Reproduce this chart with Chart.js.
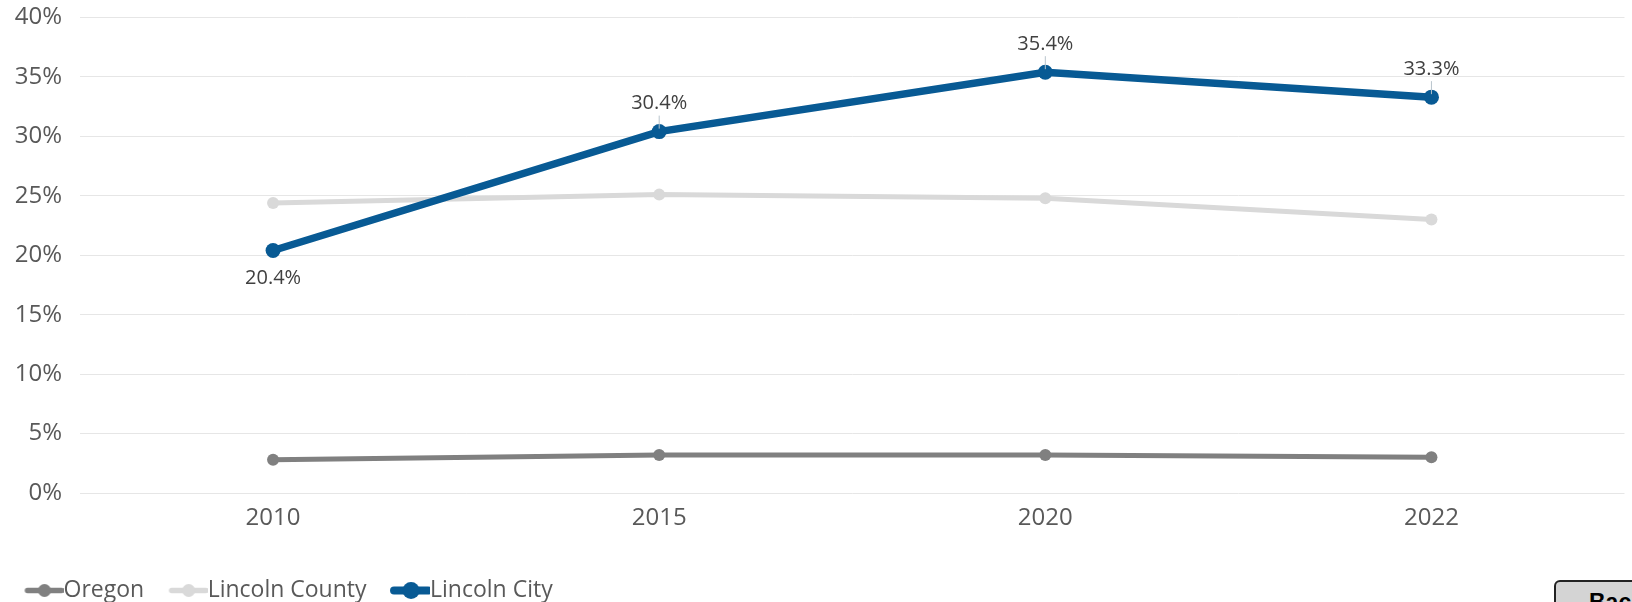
<!DOCTYPE html>
<html>
<head>
<meta charset="utf-8">
<script src="https://cdn.jsdelivr.net/npm/chart.js@4/dist/chart.umd.min.js"></script>
<style>
    html, body { margin: 0; padding: 0; background: #ffffff; overflow: hidden; }
    #wrap { position: relative; width: 1632px; height: 602px; }
    #backBtn {
        position: absolute; left: 1554px; top: 580px;
        width: 140px; height: 60px; box-sizing: border-box;
        border: 2px solid #222; border-radius: 6px; background: #d4d4d4;
        padding: 7px 0 0 33px;
        font: bold 23px "Liberation Sans", Arial, sans-serif; line-height: 26px; color: #000;
    }
</style>
</head>
<body>
<div id="wrap">
    <canvas id="povertyChart" width="1632" height="602"></canvas>
    <div id="backBtn">Back</div>
</div>
<script>
// Share of population, by year
const years = ['2010', '2015', '2020', '2022'];
const oregonValues = [2.8, 3.2, 3.2, 3.0];
const lincolnCountyValues = [24.4, 25.1, 24.8, 23.0];
const lincolnCityValues = [20.4, 30.4, 35.4, 33.3];
const yTicks = [0, 5, 10, 15, 20, 25, 30, 35, 40];

const FONT = '"Open Sans", "Noto Sans", sans-serif';

// Legend marker: short line with a dot, drawn on the right side of a small canvas
function makeLegendMarker(color, lineWidth, radius) {
    const c = document.createElement('canvas');
    c.width = 65;
    c.height = 23;
    const g = c.getContext('2d');
    g.strokeStyle = color;
    g.fillStyle = color;
    g.lineWidth = lineWidth;
    g.lineCap = 'round';
    g.beginPath();
    g.moveTo(29, 11.5);
    g.lineTo(63, 11.5);
    g.stroke();
    g.beginPath();
    g.arc(46, 11.5, radius, 0, Math.PI * 2);
    g.fill();
    return c;
}

const legendMarkers = [
    makeLegendMarker('#808080', 5.5, 6.5),
    makeLegendMarker('#d9d9d9', 5.5, 6.5),
    makeLegendMarker('#085a94', 8, 8.5)
];

// Value labels for the Lincoln City line
const valueLabels = {
    id: 'valueLabels',
    afterDatasetsDraw(chart) {
        const ctx = chart.ctx;
        const meta = chart.getDatasetMeta(2);
        ctx.save();
        ctx.font = '20px ' + FONT;
        ctx.fillStyle = '#404040';
        ctx.textAlign = 'center';
        ctx.textBaseline = 'middle';
        meta.data.forEach((pt, i) => {
            const v = lincolnCityValues[i];
            const below = v < lincolnCountyValues[i];
            const ty = below ? pt.y + 28 : pt.y - 28;
            if (!below) {
                ctx.strokeStyle = '#b8c4cc';
                ctx.lineWidth = 1;
                ctx.beginPath();
                ctx.moveTo(pt.x, ty + 12);
                ctx.lineTo(pt.x, pt.y - 3);
                ctx.stroke();
            }
            ctx.fillText(v.toFixed(1) + '%', pt.x, ty);
        });
        ctx.restore();
    }
};

new Chart(document.getElementById('povertyChart'), {
    type: 'line',
    data: {
        labels: years,
        datasets: [
            {
                label: 'Oregon',
                data: oregonValues,
                borderColor: '#808080',
                backgroundColor: '#808080',
                borderWidth: 5,
                pointRadius: 6,
                pointBorderWidth: 0,
                order: 2
            },
            {
                label: 'Lincoln County',
                data: lincolnCountyValues,
                borderColor: '#d9d9d9',
                backgroundColor: '#d9d9d9',
                borderWidth: 5,
                pointRadius: 6,
                pointBorderWidth: 0,
                order: 1
            },
            {
                label: 'Lincoln City',
                data: lincolnCityValues,
                borderColor: '#085a94',
                backgroundColor: '#085a94',
                borderWidth: 7.5,
                pointRadius: 7.5,
                pointBorderWidth: 0,
                order: 0
            }
        ]
    },
    options: {
        responsive: false,
        animation: false,
        layout: {
            padding: { top: 0, right: 4, bottom: -10, left: 0 }
        },
        plugins: {
            tooltip: { enabled: false },
            legend: {
                position: 'bottom',
                align: 'start',
                labels: {
                    usePointStyle: true,
                    pointStyleWidth: 42,
                    padding: 10,
                    color: '#595959',
                    font: { family: FONT, size: 23 },
                    generateLabels(chart) {
                        const items = Chart.defaults.plugins.legend.labels.generateLabels(chart);
                        items.forEach(it => { it.pointStyle = legendMarkers[it.datasetIndex]; });
                        return items.sort((a, b) => a.datasetIndex - b.datasetIndex);
                    }
                }
            }
        },
        scales: {
            x: {
                offset: true,
                grid: { display: false, drawTicks: false },
                border: { display: false },
                ticks: {
                    padding: 11,
                    color: '#595959',
                    font: { family: FONT, size: 24 }
                },
                afterFit(scale) { scale.height = 76; }
            },
            y: {
                min: 0,
                max: 40,
                afterBuildTicks(scale) { scale.ticks = yTicks.map(v => ({ value: v })); },
                grid: { color: '#e6e6e6', lineWidth: 1, drawTicks: false },
                border: { display: false },
                ticks: {
                    padding: 18,
                    color: '#595959',
                    font: { family: FONT, size: 24 },
                    callback: v => v + '%'
                },
                afterFit(scale) {
                    scale.width = 80;
                    scale.paddingTop = 17.5;
                }
            }
        }
    },
    plugins: [valueLabels]
});
</script>
</body>
</html>
